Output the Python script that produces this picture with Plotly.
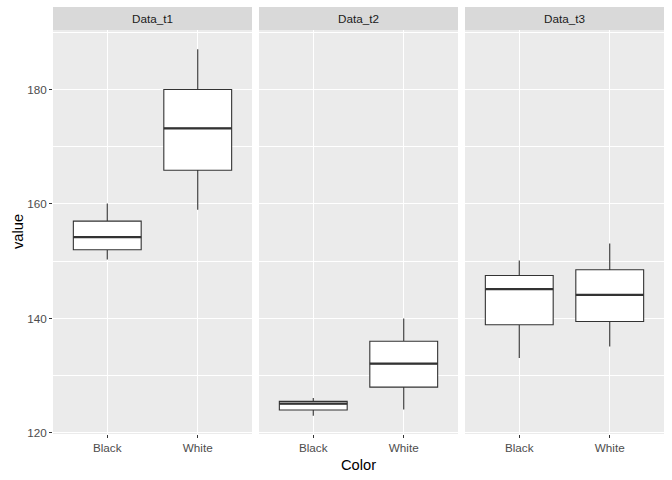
import plotly.graph_objects as go

panels = ["Data_t1", "Data_t2", "Data_t3"]
categories = ["Black", "White"]
# per panel: [Black, White]
lower = {"Data_t1": [150.3, 159.0], "Data_t2": [123.0, 124.1], "Data_t3": [133.1, 135.1]}
q1 = {"Data_t1": [152.0, 165.9], "Data_t2": [124.0, 128.0], "Data_t3": [138.9, 139.45]}
med = {"Data_t1": [154.2, 173.2], "Data_t2": [125.1, 132.1], "Data_t3": [145.1, 144.1]}
q3 = {"Data_t1": [157.0, 180.0], "Data_t2": [125.5, 136.0], "Data_t3": [147.5, 148.5]}
upper = {"Data_t1": [160.06, 187.05], "Data_t2": [126.1, 140.0], "Data_t3": [150.1, 153.1]}
y_ticks = [120, 140, 160, 180]

W, H = 672, 480
ml, mr, mt, mb = 53, 8, 30, 46
pw = W - ml - mr
gap = 7
panel_w = (pw - 2 * gap) / 3
domains = [[(i * (panel_w + gap)) / pw, (i * (panel_w + gap) + panel_w) / pw] for i in range(3)]
ph = H - mt - mb
strip_h = 23 / ph

LINE = "#333333"
FONT = "Arial, Liberation Sans, sans-serif"
box_w = 0.75

fig = go.Figure()
for i, p in enumerate(panels):
    xa = "x" if i == 0 else f"x{i+1}"
    for j, c in enumerate(categories):
        fig.add_trace(go.Box(
            x=[j], q1=[q1[p][j]], median=[med[p][j]], q3=[q3[p][j]],
            lowerfence=[lower[p][j]], upperfence=[upper[p][j]],
            width=box_w, whiskerwidth=0, fillcolor="white", line=dict(color=LINE, width=1.1),
            boxpoints=False, xaxis=xa, yaxis="y", showlegend=False, hoverinfo="skip"))
        fig.add_trace(go.Scatter(
            x=[j - box_w / 2, j + box_w / 2], y=[med[p][j], med[p][j]],
            mode="lines", line=dict(color=LINE, width=2.2),
            xaxis=xa, yaxis="y", showlegend=False, hoverinfo="skip"))

    key = "xaxis" if i == 0 else f"xaxis{i+1}"
    fig.layout[key] = dict(
        domain=domains[i], anchor="y", range=[-0.6, 1.6],
        tickvals=[0, 1], ticktext=categories, ticks="outside", ticklen=3,
        tickcolor=LINE, tickwidth=1, showgrid=True, gridcolor="white", gridwidth=1.1,
        zeroline=False, showline=False,
        tickfont=dict(family=FONT, size=11.7, color="#4D4D4D"), fixedrange=True)
    # strip background
    fig.add_shape(type="rect", xref="paper", yref="paper",
                  x0=domains[i][0], x1=domains[i][1], y0=1, y1=1 + strip_h,
                  fillcolor="#D9D9D9", line=dict(width=0), layer="below")
    # panel background
    fig.add_shape(type="rect", xref="paper", yref="paper",
                  x0=domains[i][0], x1=domains[i][1], y0=0, y1=1,
                  fillcolor="#EBEBEB", line=dict(width=0), layer="below")
    fig.add_annotation(text=p, xref="paper", yref="paper",
                       x=(domains[i][0] + domains[i][1]) / 2, y=1 + strip_h / 2,
                       showarrow=False, xanchor="center", yanchor="middle",
                       font=dict(family=FONT, size=11.7, color="#1A1A1A"))

fig.update_layout(
    width=W, height=H, margin=dict(l=ml, r=mr, t=mt, b=mb),
    paper_bgcolor="white", plot_bgcolor="rgba(0,0,0,0)",
    yaxis=dict(range=[119.8, 190.4], tickvals=y_ticks, ticks="outside", ticklen=3,
               tickcolor=LINE, tickwidth=1, showgrid=True, gridcolor="white", gridwidth=1.1,
               minor=dict(dtick=10, tick0=120, showgrid=True, gridcolor="white", gridwidth=0.55, ticks=""),
               zeroline=False, showline=False,
               tickfont=dict(family=FONT, size=11.7, color="#4D4D4D"), fixedrange=True),
    boxgap=0, boxgroupgap=0,
)
fig.add_annotation(text="Color", xref="paper", yref="paper", x=0.5, y=0, yshift=-31,
                   showarrow=False, xanchor="center", yanchor="middle",
                   font=dict(family=FONT, size=14.7, color="black"))
fig.add_annotation(text="value", xref="paper", yref="paper", x=0, xshift=-35, y=0.5,
                   textangle=-90, showarrow=False, xanchor="center", yanchor="middle",
                   font=dict(family=FONT, size=14.7, color="black"))

fig.write_html("out.html")
